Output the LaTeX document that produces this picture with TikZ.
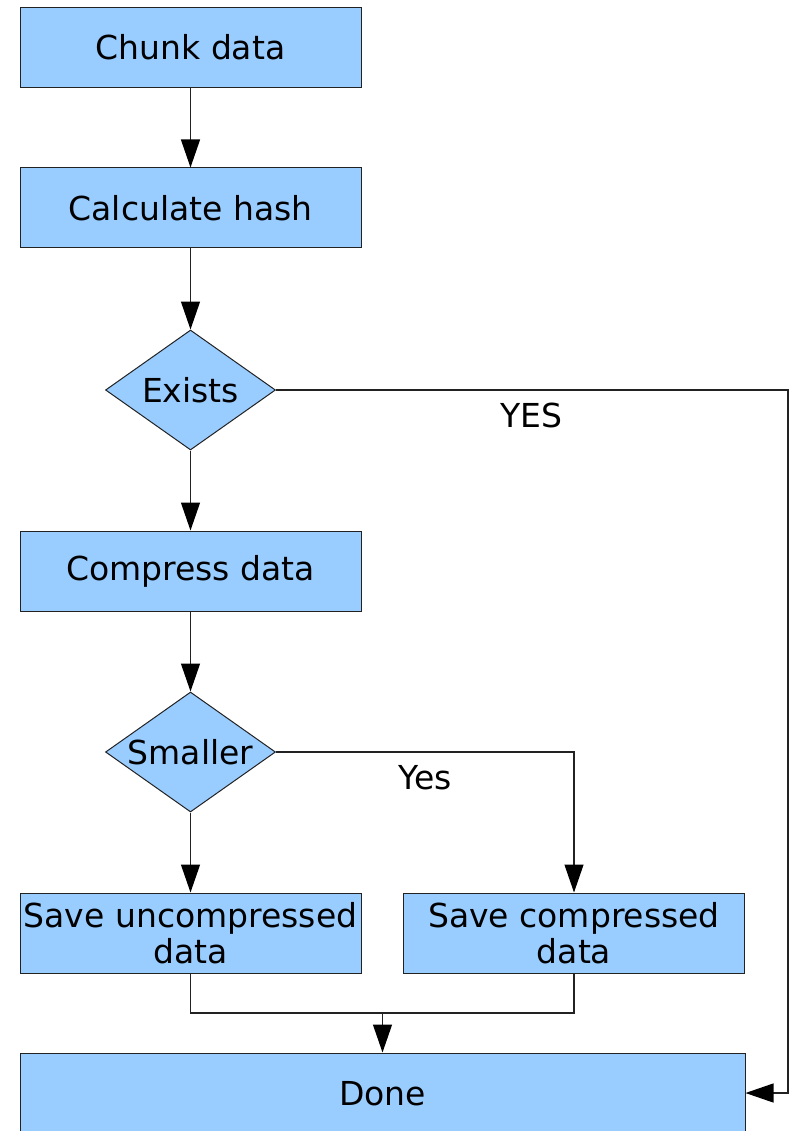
\documentclass[tikz,border=0pt]{standalone}
\usepackage{fontspec}
\setmainfont{DejaVu Sans}
\usetikzlibrary{shapes.geometric,arrows.meta}
\definecolor{boxfill}{HTML}{99CCFF}
\definecolor{edge}{HTML}{222222}
\tikzset{
  stepbox/.style={draw=edge, line width=1pt, fill=boxfill, rectangle, inner sep=0pt,
    minimum width=341pt, minimum height=80pt, align=center,
    font=\fontsize{33}{36}\selectfont},
  decision/.style={draw=edge, line width=1pt, fill=boxfill, diamond, inner sep=0pt,
    minimum width=170pt, minimum height=120pt},
  txt/.style={font=\fontsize{33}{36}\selectfont, inner sep=0pt},
  flow/.style={draw=edge, line width=1.2pt, -{Triangle[length=28pt,width=19pt,fill=black,color=black]}},
  plain/.style={draw=edge, line width=1.2pt}
}
\begin{document}
\begin{tikzpicture}[x=1pt,y=1pt]
\useasboundingbox (0,0) rectangle (793,-1131);
\clip (0,0) rectangle (793,-1131);
% process steps
\node[stepbox] (chunk) at (190.5,-47.5) {Chunk data};
\node[stepbox] (hash) at (190.5,-208) {Calculate hash};
\node[decision] (exists) at (190.5,-390) {};
\node[txt] (existsT) at (exists.center) {Exists};
\node[stepbox] (compress) at (190.5,-571) {Compress data};
\node[decision] (smaller) at (190.5,-752) {};
\node[txt] (smallerT) at (smaller.center) {Smaller};
\node[stepbox] (saveu) at (190.5,-933) {Save uncompressed\\data};
\node[stepbox] (savec) at (574,-933) {Save compressed\\data};
\node[stepbox, minimum width=725pt, minimum height=82pt] (done) at (382.5,-1094) {Done};
% labels
\node[txt] (yesA) at (531,-415) {YES};
\node[txt] (yesB) at (425,-778) {Yes};
% helper points
\coordinate (exR) at (788,-390);
\coordinate (exD) at (788,-1093);
\coordinate (doneR) at (done.east |- exD);
\coordinate (smR) at (savec.north |- smaller.east);
\coordinate (mergeL) at (190.5,-1013);
\coordinate (mergeR) at (574,-1013);
\coordinate (mergeM) at (382.5,-1013);
% connectors
\draw[flow] (chunk) -- (hash);
\draw[flow] (hash) -- (exists.north);
\draw[flow] (exists.south) -- (compress);
\draw[flow] (compress) -- (smaller.north);
\draw[flow] (smaller.south) -- (saveu);
\draw[flow] (exists.east) -- (exR) -- (exD) -- (doneR);
\draw[flow] (smaller.east) -- (smR) -- (savec.north);
\draw[plain] (saveu.south) -- (mergeL) -- (mergeR) -- (savec.south);
\draw[flow] (mergeM) -- (done.north -| mergeM);
\end{tikzpicture}
\end{document}
